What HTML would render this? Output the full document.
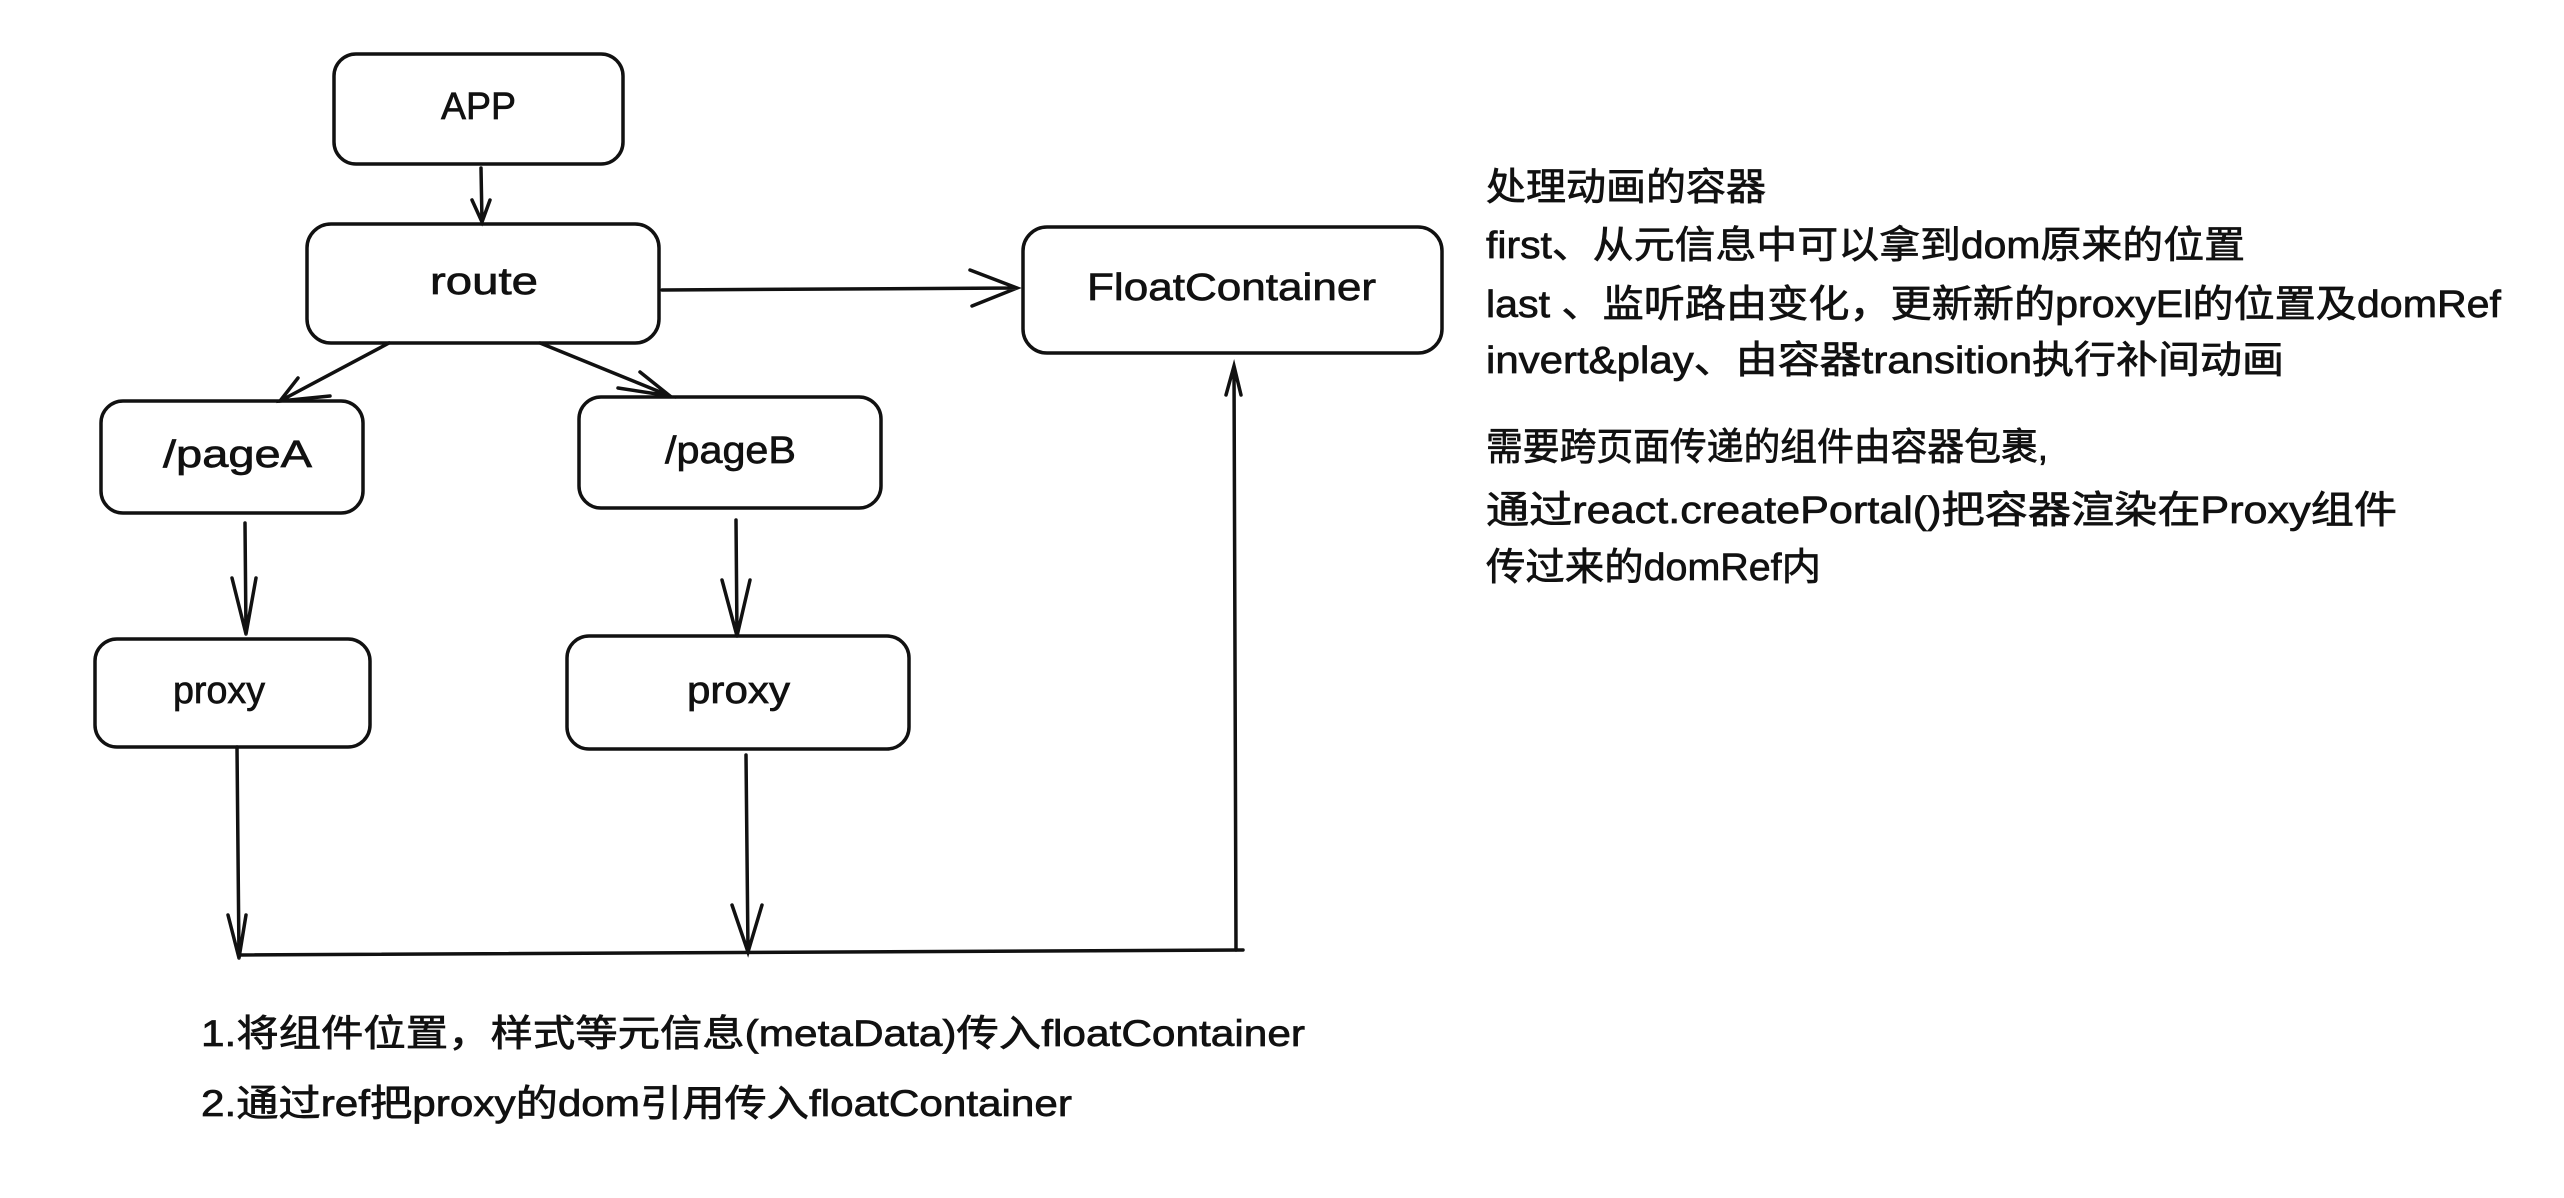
<!DOCTYPE html>
<html><head><meta charset="utf-8"><style>
html,body{margin:0;padding:0;background:#fff;}
svg{display:block}
text{font-family:"Liberation Sans","Noto Sans CJK SC",sans-serif;fill:#111;stroke:#111;stroke-width:0.7;}
</style></head><body>
<svg width="2564" height="1198" viewBox="0 0 2564 1198" xmlns="http://www.w3.org/2000/svg">
<g fill="none" stroke="#111" stroke-width="3.5" stroke-linecap="round">
<rect x="334" y="54" width="289" height="110" rx="22"/>
<rect x="307" y="224" width="352" height="119" rx="24"/>
<rect x="1023" y="227" width="419" height="126" rx="24"/>
<rect x="101" y="401" width="262" height="112" rx="22"/>
<rect x="579" y="397" width="302" height="111" rx="22"/>
<rect x="95" y="639" width="275" height="108" rx="22"/>
<rect x="567" y="636" width="342" height="113" rx="22"/>
<path d="M481 168 L482 222 M472 200 L482 222 L490 200"/>
<path d="M662 290 L1017 288 M970 270 L1017 288 L972 306"/>
<path d="M389 343 L280 401 M298 378 L280 401 L330 396"/>
<path d="M540 343 L670 396 M618 388 L670 396 L640 372"/>
<path d="M245 523 L246 634 M232 578 L246 634 L256 578"/>
<path d="M736 520 L737 636 M722 580 L737 636 L750 580"/>
<path d="M237 747 L239 958 M228 915 L239 958 L246 915"/>
<path d="M746 755 L748 952 M732 905 L748 952 L762 905"/>
<path d="M239 955 L1243 950"/>
<path d="M1236 950 L1234 366 M1226 395 L1234 366 L1241 395"/>
</g>
<g font-size="38" dominant-baseline="middle" lengthAdjust="spacingAndGlyphs">
<text x="441" y="109" textLength="75" lengthAdjust="spacingAndGlyphs">APP</text>
<text x="430" y="284" textLength="108" lengthAdjust="spacingAndGlyphs">route</text>
<text x="1087" y="290" textLength="289" lengthAdjust="spacingAndGlyphs">FloatContainer</text>
<text x="163" y="457" textLength="149" lengthAdjust="spacingAndGlyphs">/pageA</text>
<text x="665" y="453" textLength="131" lengthAdjust="spacingAndGlyphs">/pageB</text>
<text x="173" y="693" textLength="92" lengthAdjust="spacingAndGlyphs">proxy</text>
<text x="687" y="693" textLength="103" lengthAdjust="spacingAndGlyphs">proxy</text>
</g>
<g font-size="38">
<text x="1486" y="200" textLength="280" lengthAdjust="spacingAndGlyphs">处理动画的容器</text>
<text x="1486" y="258" textLength="759" lengthAdjust="spacingAndGlyphs">first、从元信息中可以拿到dom原来的位置</text>
<text x="1486" y="317" textLength="1015" lengthAdjust="spacingAndGlyphs">last 、监听路由变化，更新新的proxyEl的位置及domRef</text>
<text x="1486" y="373" textLength="798" lengthAdjust="spacingAndGlyphs">invert&amp;play、由容器transition执行补间动画</text>
<text x="1486" y="460" textLength="562" lengthAdjust="spacingAndGlyphs">需要跨页面传递的组件由容器包裹,</text>
<text x="1486" y="523" textLength="911" lengthAdjust="spacingAndGlyphs">通过react.createPortal()把容器渲染在Proxy组件</text>
<text x="1486" y="580" textLength="335" lengthAdjust="spacingAndGlyphs">传过来的domRef内</text>
</g>
<g font-size="37">
<text x="201" y="1046" textLength="1104" lengthAdjust="spacingAndGlyphs">1.将组件位置，样式等元信息(metaData)传入floatContainer</text>
<text x="201" y="1116" textLength="871" lengthAdjust="spacingAndGlyphs">2.通过ref把proxy的dom引用传入floatContainer</text>
</g>
</svg>
</body></html>
